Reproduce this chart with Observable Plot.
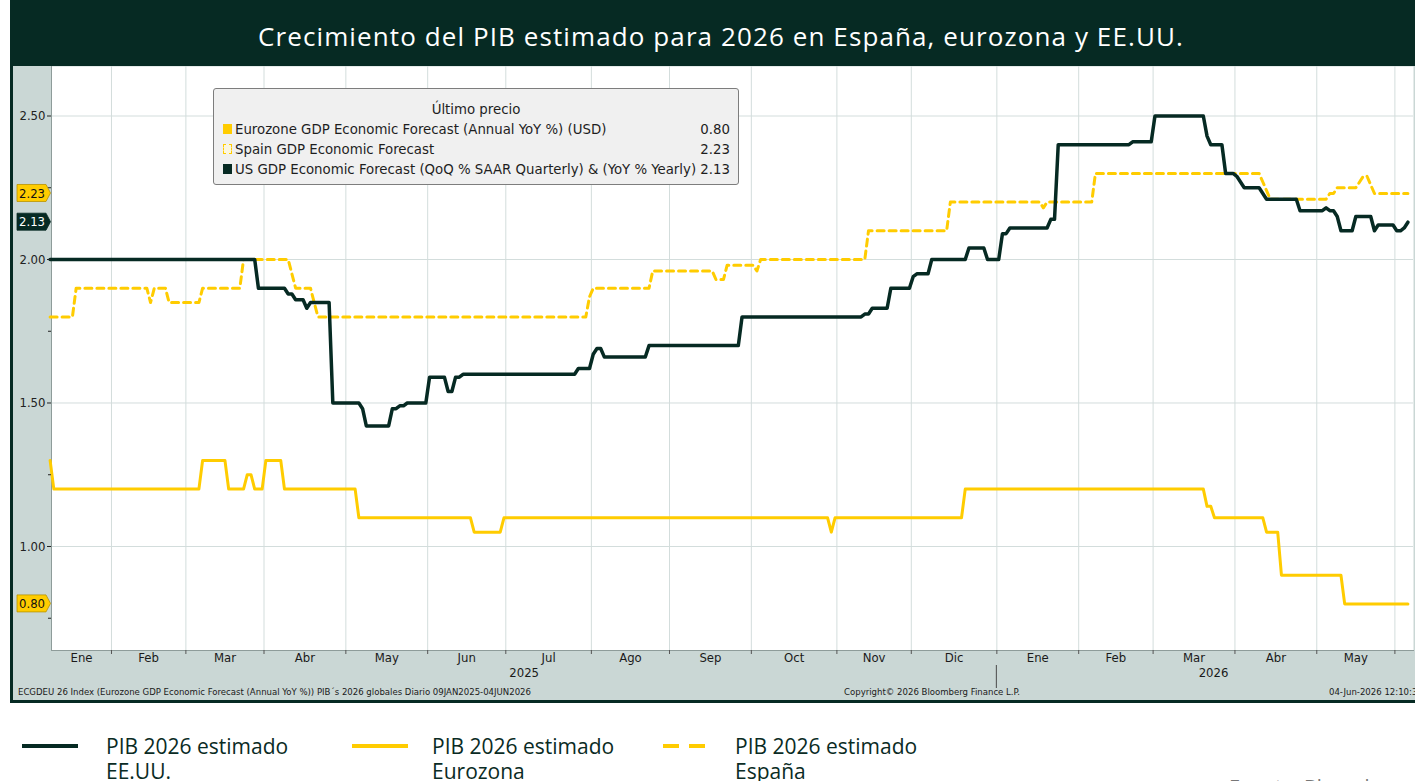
<!DOCTYPE html>
<html>
<head>
<meta charset="utf-8">
<script src="https://cdn.jsdelivr.net/npm/d3@7"></script>
<script src="https://cdn.jsdelivr.net/npm/@observablehq/plot@0.6"></script>
<style>
  body { margin: 0; background: #fff; }
  #page { position: relative; width: 1415px; height: 781px; overflow: hidden; font-family: "Open Sans", sans-serif; }
  #titlebar { position: absolute; left: 10px; top: 0; width: 1405px; height: 66px; background: #062a23; }
  #titletext { position: absolute; left: 0; width: 1442px; top: 22.6px; line-height: 26px; font-size: 26px; color: #fff; text-align: center; letter-spacing: 1.1px; white-space: nowrap; }
  #chartbox { position: absolute; left: 10px; top: 66px; width: 1405px; height: 637px; background: #062a23; }
  #chart { position: absolute; left: 3px; top: 0; width: 1402px; height: 634px; }
  #chart svg { font-family: "DejaVu Sans Condensed", "DejaVu Sans", sans-serif; font-stretch: condensed; background: #cad7d5; }
  #lbox { position: absolute; left: 213px; top: 88px; width: 524px; height: 95px; background: #f0f0f0; border: 1px solid #7d7d7d; border-radius: 3px; font-family: "DejaVu Sans Condensed", "DejaVu Sans", sans-serif; font-stretch: condensed; font-size: 14.8px; color: #1e1e1e; }
  #lbox .hdr { position: absolute; left: 0; width: 100%; top: 10px; line-height: 20px; text-align: center; }
  #lbox .row { position: absolute; left: 0; width: 100%; line-height: 20px; height: 20px; }
  #lbox .sw { position: absolute; left: 9px; top: 5px; width: 9px; height: 10px; box-sizing: border-box; }
  #lbox .lab { position: absolute; left: 21px; white-space: nowrap; }
  #lbox .val { position: absolute; right: 8px; }
  .leg { position: absolute; font-family: "Open Sans", sans-serif; font-size: 21px; line-height: 25px; height: 25px; color: #0a2b24; white-space: nowrap; }
  .legline { position: absolute; height: 4px; }
</style>
</head>
<body>
<div id="page">
  <div id="titlebar"></div>
  <div id="titletext">Crecimiento del PIB estimado para 2026 en España, eurozona y EE.UU.</div>
  <div id="chartbox"><div id="chart"></div></div>
  <div id="lbox"></div>
  <div id="bottomlegend"></div>
</div>
<script>
// ---------------- DATA (step change points) ----------------
const rangeStart = "2025-01-09";
const rangeEnd = "2026-06-04";

const usDates = ["2025-01-09","2025-03-28","2025-04-09","2025-04-11","2025-04-16","2025-04-17","2025-04-25",
  "2025-05-07","2025-05-08","2025-05-19","2025-05-21","2025-05-23","2025-06-02","2025-06-09","2025-06-11","2025-06-13",
  "2025-07-28","2025-08-01","2025-08-04","2025-08-06","2025-08-22","2025-09-26","2025-11-12","2025-11-14","2025-11-21",
  "2025-12-01","2025-12-02","2025-12-08","2025-12-22","2025-12-29","2026-01-02","2026-01-06","2026-01-21","2026-01-23",
  "2026-02-20","2026-03-02","2026-03-20","2026-03-23","2026-03-27","2026-04-01","2026-04-02","2026-04-03","2026-04-10",
  "2026-04-13","2026-04-24","2026-05-05","2026-05-06","2026-05-08","2026-05-11","2026-05-15","2026-05-22","2026-05-25",
  "2026-06-01","2026-06-03","2026-06-04"];
const usValues = [2.00,1.90,1.88,1.86,1.83,1.85,1.50,
  1.48,1.42,1.48,1.49,1.50,1.59,1.54,1.59,1.60,
  1.62,1.67,1.69,1.66,1.70,1.80,1.81,1.83,1.90,
  1.94,1.95,2.00,2.04,2.00,2.09,2.11,2.14,2.40,
  2.41,2.50,2.43,2.40,2.30,2.29,2.27,2.25,2.23,
  2.21,2.17,2.18,2.17,2.15,2.10,2.15,2.10,2.12,
  2.10,2.11,2.13];

const spainDates = ["2025-01-09","2025-01-20","2025-02-17","2025-02-18","2025-02-24","2025-03-07","2025-03-24",
  "2025-04-10","2025-04-11","2025-04-18","2025-04-21","2025-07-31","2025-08-01","2025-08-25","2025-09-17","2025-09-22",
  "2025-10-02","2025-10-03","2025-11-13","2025-12-15","2026-01-19","2026-01-20","2026-02-06","2026-04-10","2026-04-13",
  "2026-04-14","2026-05-06","2026-05-08","2026-05-18","2026-05-19","2026-05-21","2026-05-22"];
const spainValues = [1.80,1.90,1.85,1.90,1.85,1.90,2.00,
  1.95,1.90,1.85,1.80,1.87,1.90,1.96,1.93,1.98,
  1.96,2.00,2.10,2.20,2.18,2.20,2.30,2.27,2.24,
  2.21,2.23,2.25,2.27,2.29,2.26,2.23];

const euroDates = ["2025-01-09","2025-01-10","2025-03-07","2025-03-18","2025-03-25","2025-03-27","2025-04-01",
  "2025-04-08","2025-05-06","2025-06-18","2025-06-30","2025-10-30","2025-10-31","2025-12-19","2026-03-20","2026-03-24",
  "2026-04-13","2026-04-17","2026-05-12"];
const euroValues = [1.30,1.20,1.30,1.20,1.25,1.20,1.30,
  1.20,1.10,1.05,1.10,1.05,1.10,1.20,1.14,1.10,
  1.05,0.90,0.80];

const monthNames = ["Ene","Feb","Mar","Abr","May","Jun","Jul","Ago","Sep","Oct","Nov","Dic"];
const monthStarts = ["2025-02-01","2025-03-01","2025-04-01","2025-05-01","2025-06-01","2025-07-01","2025-08-01",
  "2025-09-01","2025-10-01","2025-11-01","2025-12-01","2026-01-01","2026-02-01","2026-03-01","2026-04-01","2026-05-01","2026-06-01"];
const yearLabels = ["2025","2026"];
const yTicks = [1.00, 1.50, 2.00, 2.50];
const yMinorTicks = [0.75, 1.25, 1.75, 2.25];

const seriesNames = ["Eurozone GDP Economic Forecast (Annual YoY %) (USD)", "Spain GDP Economic Forecast",
  "US GDP Economic Forecast (QoQ % SAAR Quarterly) & (YoY % Yearly)"];
const legendLabels = [["PIB 2026 estimado","EE.UU."],["PIB 2026 estimado","Eurozona"],["PIB 2026 estimado","España"]];
const footerLeft = "ECGDEU 26 Index (Eurozone GDP Economic Forecast (Annual YoY %)) PIB\u00B4s 2026 globales Diario 09JAN2025-04JUN2026";
const footerMid = "Copyright\u00A9 2026 Bloomberg Finance L.P.";
const footerRight = "04-Jun-2026 12:10:32";
const sourceText = "Fuente: Bloomberg";

// ---------------- helpers ----------------
const DARK = "#062a23", YELLOW = "#ffcc00";
const startDate = new Date(rangeStart + "T00:00:00Z");
// trading-day (weekday) index, as on the Bloomberg x axis
function wdIndex(s) {
  const d = new Date(s + "T00:00:00Z");
  let n = 0;
  for (let t = new Date(startDate); t < d; t.setUTCDate(t.getUTCDate() + 1)) {
    const w = t.getUTCDay();
    if (w !== 0 && w !== 6) n++;
  }
  return n;
}
const endIdx = wdIndex(rangeEnd);
function stepPoints(dates, vals) {
  const pts = [];
  dates.forEach((d, k) => {
    const i = wdIndex(d);
    if (k > 0) pts.push({i: i - 1, v: vals[k - 1]});
    pts.push({i, v: vals[k]});
  });
  pts.push({i: endIdx, v: vals[vals.length - 1]});
  return pts;
}
const usPts = stepPoints(usDates, usValues);
const spainPts = stepPoints(spainDates, spainValues);
const euroPts = stepPoints(euroDates, euroValues);

const boundaries = monthStarts.map(s => wdIndex(s) - 0.5);
const xDomain = [0.376, 366.5];
const monthLabels = [];
const edges = [xDomain[0], ...boundaries];
for (let k = 0; k < edges.length - 1; k++) {
  const m = new Date(k === 0 ? rangeStart + "T00:00:00Z" : monthStarts[k - 1] + "T00:00:00Z").getUTCMonth();
  monthLabels.push({mid: (edges[k] + edges[k + 1]) / 2, label: monthNames[m]});
}
const yearBoundary = boundaries[monthStarts.indexOf("2026-01-01")];
const yearMarks = [
  {mid: (xDomain[0] + yearBoundary) / 2, label: yearLabels[0]},
  {mid: (yearBoundary + xDomain[1] + 4.5) / 2, label: yearLabels[1]}
];
const lastVals = [
  {v: spainValues[spainValues.length - 1], fill: YELLOW, color: "#111", stroke: "#b89300"},
  {v: usValues[usValues.length - 1], fill: DARK, color: "#fff", stroke: DARK},
  {v: euroValues[euroValues.length - 1], fill: YELLOW, color: "#111", stroke: "#b89300"}
];

function decor(index, scales, values, dims) {
  const {x, y} = scales;
  const g = d3.create("svg:g").attr("text-anchor", "start");
  const xs = x(yearBoundary);
  g.append("line").attr("x1", xs).attr("x2", xs).attr("y1", 599).attr("y2", 622).attr("stroke", "#4a4a4a").attr("stroke-width", 1);
  const ft = g.append("g").attr("font-size", 9.5).attr("fill", "#1a1a1a");
  ft.append("text").attr("x", 5).attr("y", 629).attr("text-anchor", "start").text(footerLeft);
  ft.append("text").attr("x", 919).attr("y", 629).attr("text-anchor", "middle").text(footerMid);
  ft.append("text").attr("x", 1316).attr("y", 629).attr("text-anchor", "start").text(footerRight);
  for (const t of lastVals) {
    const yy = y(t.v);
    const x0 = 4, x1 = 33, x2 = 37.5, h = 8.5;
    g.append("path").attr("d", `M${x0},${yy - h}H${x1}L${x2},${yy}L${x1},${yy + h}H${x0}Z`)
      .attr("fill", t.fill).attr("stroke", t.stroke).attr("stroke-width", 0.8);
    g.append("text").attr("x", 6).attr("y", yy).attr("dy", "0.36em").attr("font-size", 13)
      .attr("text-anchor", "start").attr("fill", t.color).text(d3.format(".2f")(t.v));
  }
  return g.node();
}

const chart = Plot.plot({
  width: 1402, height: 634,
  marginLeft: 38, marginRight: 2, marginTop: 0, marginBottom: 50,
  x: {type: "linear", domain: xDomain, axis: null},
  y: {domain: [0.6376, 2.6725], axis: null},
  marks: [
    Plot.frame({fill: "white", stroke: null}),
    Plot.gridX(boundaries, {stroke: "#d3dddc", strokeOpacity: 1}),
    Plot.gridY(yTicks, {stroke: "#d3dddc", strokeOpacity: 1}),
    Plot.frame({anchor: "left", stroke: "#8e9c9a"}),
    Plot.frame({anchor: "bottom", stroke: "#8e9c9a"}),
    Plot.line(spainPts, {x: "i", y: "v", stroke: YELLOW, strokeWidth: 3, strokeDasharray: "7,5", strokeLinejoin: "round"}),
    Plot.line(euroPts, {x: "i", y: "v", stroke: YELLOW, strokeWidth: 3, strokeLinejoin: "round"}),
    Plot.line(usPts, {x: "i", y: "v", stroke: DARK, strokeWidth: 3.5, strokeLinejoin: "round"}),
    Plot.axisY(yTicks, {anchor: "left", tickFormat: d3.format(".2f"), tickSize: 4, tickPadding: 2, fontSize: 13, fill: "#222", stroke: "#222", label: null}),
    Plot.axisY(yMinorTicks, {anchor: "left", tickFormat: () => "", tickSize: 3, stroke: "#222", label: null}),
    Plot.axisX(boundaries, {anchor: "bottom", tickFormat: () => "", tickSize: 4, stroke: "#555", label: null}),
    Plot.text(monthLabels, {x: "mid", text: "label", frameAnchor: "bottom", dy: 11, fontSize: 13, fill: "#1a1a1a"}),
    Plot.text(yearMarks, {x: "mid", text: "label", frameAnchor: "bottom", dy: 26, fontSize: 13, fill: "#1a1a1a"}),
    decor
  ]
});
document.getElementById("chart").appendChild(chart);

// ---------------- in-chart legend box ----------------
const lbox = document.getElementById("lbox");
lbox.innerHTML = `<div class="hdr">\u00DAltimo precio</div>`;
const rowInfo = [
  {name: seriesNames[0], val: euroValues[euroValues.length - 1], sw: `background:${YELLOW}`},
  {name: seriesNames[1], val: spainValues[spainValues.length - 1], sw: `border:1px dashed ${YELLOW};background:#fbf6df`},
  {name: seriesNames[2], val: usValues[usValues.length - 1], sw: `background:${DARK}`}
];
const rowTops = [30, 49.5, 69.5];
rowInfo.forEach((r, k) => {
  const d = document.createElement("div");
  d.className = "row";
  d.style.top = rowTops[k] + "px";
  d.innerHTML = `<span class="sw" style="${r.sw}"></span><span class="lab">${r.name}</span><span class="val">${r.val.toFixed(2)}</span>`;
  lbox.appendChild(d);
});

// ---------------- bottom legend ----------------
const bl = document.getElementById("bottomlegend");
const legItems = [
  {lx: 22, lw: 56, tx: 106, style: `background:${DARK}`, dashed: false},
  {lx: 352, lw: 56, tx: 432, style: `background:${YELLOW}`, dashed: false},
  {lx: 663, lw: 42, tx: 735, style: `background:${YELLOW}`, dashed: true}
];
legItems.forEach((it, k) => {
  if (it.dashed) {
    [0, 26].forEach(off => {
      const s = document.createElement("div");
      s.className = "legline";
      s.style.cssText = `left:${it.lx + off}px;top:744px;width:16px;${it.style}`;
      bl.appendChild(s);
    });
  } else {
    const s = document.createElement("div");
    s.className = "legline";
    s.style.cssText = `left:${it.lx}px;top:744px;width:${it.lw}px;${it.style}`;
    bl.appendChild(s);
  }
  legendLabels[k].forEach((line, j) => {
    const t = document.createElement("div");
    t.className = "leg";
    t.style.left = it.tx + "px";
    t.style.top = (734 + 25 * j) + "px";
    t.textContent = line;
    bl.appendChild(t);
  });
});
const src = document.createElement("div");
src.className = "leg";
src.style.cssText = "left:1229px;top:774px;font-size:20px;color:#777;";
src.textContent = sourceText;
bl.appendChild(src);
</script>
</body>
</html>
